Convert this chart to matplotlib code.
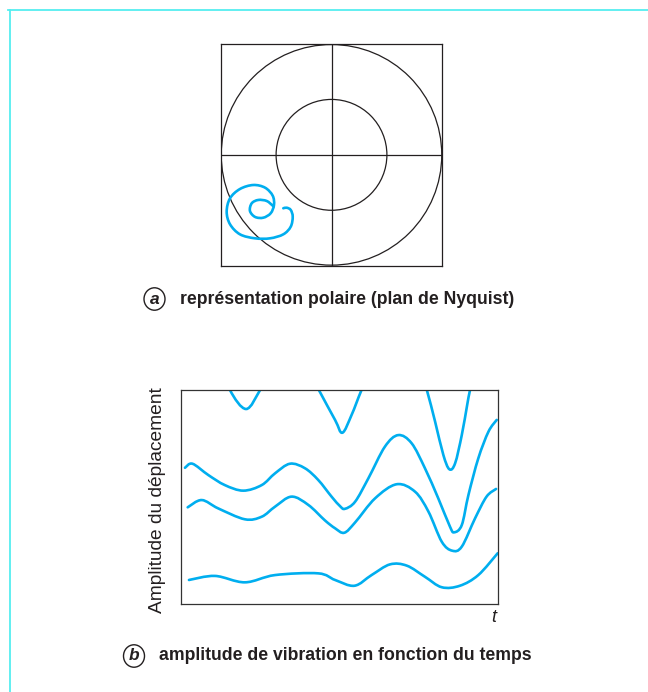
import matplotlib
matplotlib.use("Agg")
import numpy as np
import matplotlib.pyplot as plt
from matplotlib.patches import Circle, PathPatch
from matplotlib.path import Path
from matplotlib.lines import Line2D

# ---------------- data ----------------
# Nyquist plot: circle radii (relative) and spiral trajectory
circle_radii = [0.995, 0.5]
spiral_u = [-0.435, -0.404, -0.368, -0.350, -0.368, -0.435, -0.555, -0.690, -0.826,
            -0.916, -0.946, -0.916, -0.826, -0.706, -0.600, -0.531, -0.519, -0.549,
            -0.616, -0.690, -0.736, -0.720, -0.661, -0.585, -0.531]
spiral_v = [-0.482, -0.477, -0.497, -0.558, -0.648, -0.717, -0.753, -0.753, -0.717,
            -0.626, -0.513, -0.392, -0.308, -0.272, -0.296, -0.368, -0.452, -0.527,
            -0.567, -0.560, -0.506, -0.437, -0.407, -0.416, -0.458]

# Amplitude vs time (arbitrary units, 0-100)
c1_t = [12.0, 15.5, 20.6, 25.0, 28.0, 40.0, 43.5, 48.6, 50.9, 53.8, 56.8, 60.0,
        75.0, 77.5, 80.1, 82.7, 84.6, 86.4, 88.5, 90.2, 91.1, 93.0]
c1_a = [115.0, 100.0, 91.1, 100.0, 108.0, 110.0, 100.0, 86.0, 80.0, 88.3, 99.5, 110.0,
        112.0, 100.0, 85.2, 69.6, 62.9, 65.7, 78.9, 93.0, 100.0, 112.0]
c2_t = [1.35, 3.7, 8.7, 13.9, 19.7, 25.5, 29.7, 34.4, 39.1, 43.3, 47.5, 50.2, 51.7,
        54.9, 59.1, 64.3, 68.5, 72.7, 76.9, 81.1, 84.8, 86.1, 88.5, 90.6, 93.7, 96.9,
        99.5]
c2_a = [63.6, 65.5, 60.2, 55.5, 52.9, 55.5, 61.0, 65.5, 63.4, 57.9, 50.1, 45.6, 44.4,
        47.7, 58.7, 73.5, 78.9, 75.1, 63.4, 49.3, 36.0, 33.4, 36.8, 50.9, 68.0, 80.5,
        86.0]
c3_t = [2.2, 6.6, 11.8, 20.2, 25.5, 29.7, 34.9, 40.2, 45.4, 48.6, 51.5, 54.9, 61.2,
        68.0, 73.8, 78.0, 82.2, 85.5, 88.5, 92.7, 96.3, 99.3]
c3_a = [45.1, 48.5, 44.6, 39.5, 40.7, 45.4, 50.1, 46.2, 39.0, 35.3, 33.2, 38.0, 49.3,
        55.9, 52.4, 43.1, 29.0, 24.8, 26.7, 40.0, 50.1, 53.7]
c4_t = [2.6, 10.8, 20.2, 29.7, 43.3, 48.6, 54.7, 60.1, 65.9, 71.2, 76.9, 82.2, 87.9,
        93.7, 99.8]
c4_a = [11.1, 13.0, 10.0, 13.4, 14.2, 11.1, 8.4, 13.4, 18.4, 17.8, 12.6, 7.7, 8.4,
        13.4, 23.6]

label_a = "représentation polaire (plan de Nyquist)"
label_b = "amplitude de vibration en fonction du temps"
ylabel_b = "Amplitude du déplacement"
xlabel_b = "t"

# ---------------- style ----------------
BLUE = "#00aeef"
INK = "#231f20"
FRAME = "#55eef0"
plt.rcParams['font.family'] = ['Liberation Sans', 'DejaVu Sans']


def smooth_path(xs, ys):
    """Catmull-Rom through the given points, expressed as cubic Bezier path."""
    p = np.column_stack([xs, ys]).astype(float)
    ext = np.vstack([p[0], p, p[-1]])
    verts = [p[0]]
    codes = [Path.MOVETO]
    for i in range(1, len(ext) - 2):
        p0, p1, p2, p3 = ext[i - 1], ext[i], ext[i + 1], ext[i + 2]
        verts += [p1 + (p2 - p0) / 6.0, p2 - (p3 - p1) / 6.0, p2]
        codes += [Path.CURVE4] * 3
    return Path(verts, codes)


def draw_curve(ax, xs, ys, lw=1.9):
    ax.add_patch(PathPatch(smooth_path(xs, ys), fill=False, ec=BLUE, lw=lw,
                           capstyle='round', joinstyle='round'))


fig = plt.figure(figsize=(6.48, 6.92), dpi=100)
W, H = 648.0, 692.0

# frame lines (top and left)
fig.add_artist(Line2D([8 / W, 1.0], [1 - 9.5 / H, 1 - 9.5 / H], color=FRAME, lw=1.3,
                      transform=fig.transFigure))
fig.add_artist(Line2D([9.5 / W, 9.5 / W], [1 - 9.5 / H, 0.0], color=FRAME, lw=1.3,
                      transform=fig.transFigure))

# ---------------- top: Nyquist ----------------
ax1 = fig.add_axes([220.7 / W, 1 - 265.7 / H, 221.6 / W, 221.7 / H])
ax1.set_xlim(-1, 1)
ax1.set_ylim(-1, 1)
for r in circle_radii:
    ax1.add_patch(Circle((0, 0), r, fill=False, ec=INK, lw=0.9))
ax1.axhline(0, color=INK, lw=0.9)
ax1.axvline(0, color=INK, lw=0.9)
draw_curve(ax1, spiral_u, spiral_v)
ax1.set_xticks([])
ax1.set_yticks([])
for s in ax1.spines.values():
    s.set_color(INK)
    s.set_linewidth(0.9)

# ---------------- bottom: amplitude ----------------
ax2 = fig.add_axes([180.7 / W, 1 - 603.7 / H, 317.6 / W, 213.7 / H])
ax2.set_xlim(0, 100)
ax2.set_ylim(0, 100)
for t, a in [(c1_t, c1_a), (c2_t, c2_a), (c3_t, c3_a), (c4_t, c4_a)]:
    draw_curve(ax2, t, a)
ax2.set_xticks([])
ax2.set_yticks([])
for s in ax2.spines.values():
    s.set_color("#333333")
    s.set_linewidth(0.9)
ax2.set_ylabel(ylabel_b, fontsize=13.8, color=INK)
ax2.yaxis.set_label_coords(-(180.7 - 166) / 317.6, 0.485)
ax2.text(494 / W, 1 - 617 / H, xlabel_b, transform=fig.transFigure, fontsize=13,
         style='italic', color=INK, ha='center', va='center')

# ---------------- captions ----------------
def caption(cx, cy, letter, text):
    fig.add_artist(Circle((cx / W, 1 - cy / H), 10.5 / W, transform=fig.transFigure,
                          fill=False, ec=INK, lw=1.0))
    fig.text(cx / W, 1 - cy / H, letter, ha='center', va='center', fontsize=12.5,
             fontweight='bold', style='italic', color=INK)
    fig.text((cx + 25) / W, 1 - cy / H, text, ha='left', va='center', fontsize=12.7,
             fontweight='bold', color=INK)

caption(154.5, 299, 'a', label_a)
caption(134, 656, 'b', label_b)

fig.savefig("out.png", dpi=100)
